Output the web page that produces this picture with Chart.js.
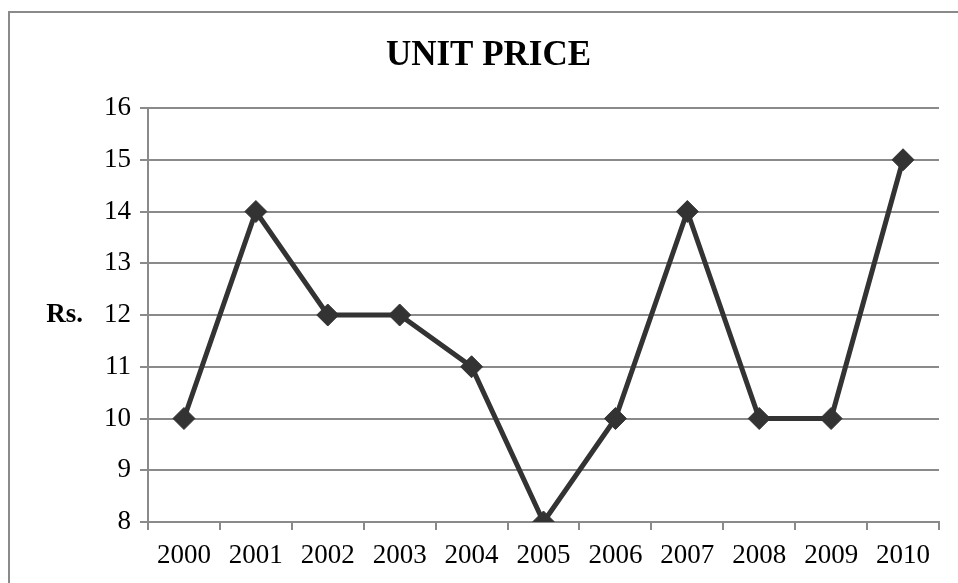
<!DOCTYPE html>
<html>
<head>
<meta charset="utf-8">
<script src="https://cdn.jsdelivr.net/npm/chart.js@4"></script>
<style>
  body { margin: 0; background: #fff; }
  #wrap { position: relative; width: 958px; height: 583px; overflow: hidden; }
  #frame { position: absolute; left: 8px; top: 11px; width: 1000px; height: 1000px;
           border-left: 2px solid #8a8a8a; border-top: 2px solid #8a8a8a; }
  #c { position: absolute; left: 0; top: 0; }
</style>
</head>
<body>
<div id="wrap">
  <div id="frame"></div>
  <canvas id="c" width="958" height="583"></canvas>
</div>
<script>
// chart data
var years = ['2000', '2001', '2002', '2003', '2004', '2005', '2006', '2007', '2008', '2009', '2010'];
var unitPrice = [10, 14, 12, 12, 11, 8, 10, 14, 10, 10, 15];
var yMin = 8, yMax = 16, yStep = 1;

var serif = "'Liberation Serif', 'Times New Roman', serif";

// the horizontal "Rs." label on the left
var rsLabel = {
  id: 'rsLabel',
  afterDraw: function (chart) {
    var ctx = chart.ctx;
    var y = chart.scales.y.getPixelForValue(12);
    ctx.save();
    ctx.font = 'bold 27px ' + serif;
    ctx.fillStyle = '#000';
    ctx.textAlign = 'right';
    ctx.textBaseline = 'middle';
    ctx.fillText('Rs.', 83, y);
    ctx.restore();
  }
};

new Chart(document.getElementById('c'), {
  type: 'line',
  data: {
    labels: years,
    datasets: [{
      label: 'Unit price',
      data: unitPrice,
      borderColor: '#333333',
      backgroundColor: '#333333',
      borderWidth: 5,
      tension: 0,
      pointStyle: 'rectRot',
      pointRadius: 11,
      pointBorderWidth: 1,
      pointBorderColor: '#333333',
      pointBackgroundColor: '#333333'
    }]
  },
  options: {
    responsive: false,
    animation: false,
    // left padding keeps the title centred on the framed box
    layout: { padding: { top: 0, right: 19, bottom: 0, left: 38 } },
    plugins: {
      legend: { display: false },
      tooltip: { enabled: false },
      title: {
        display: true,
        text: 'UNIT PRICE',
        color: '#000',
        font: { family: serif, size: 35, weight: 'bold' },
        padding: { top: 35, bottom: 31 }
      }
    },
    scales: {
      x: {
        offset: true,
        grid: {
          offset: true,
          drawOnChartArea: false,
          drawTicks: true,
          tickLength: 8,
          color: '#8a8a8a',
          lineWidth: 2
        },
        border: { color: '#8a8a8a', width: 2 },
        ticks: {
          color: '#000',
          font: { family: serif, size: 27 },
          padding: 10,
          maxRotation: 0,
          autoSkip: false
        },
        afterFit: function (scale) { scale.height = 61; }
      },
      y: {
        min: yMin,
        max: yMax,
        grid: {
          color: '#8a8a8a',
          lineWidth: 2,
          tickLength: 8
        },
        border: { color: '#8a8a8a', width: 2 },
        ticks: {
          stepSize: yStep,
          color: '#000',
          font: { family: serif, size: 27 },
          padding: 9
        },
        afterFit: function (scale) { scale.width = 110; }
      }
    }
  },
  plugins: [rsLabel]
});
</script>
</body>
</html>
